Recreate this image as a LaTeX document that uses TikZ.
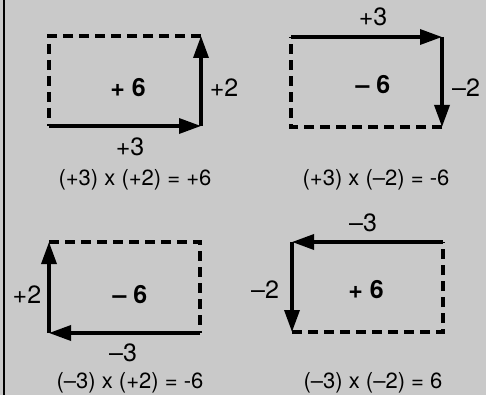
\documentclass[tikz,border=0pt]{standalone}
\usepackage{fontspec}
\setmainfont{TeX Gyre Heros}
\usetikzlibrary{arrows.meta}

\begin{document}
\begin{tikzpicture}[
    x=0.5pt, y=-0.5pt,
    vec/.style={draw, line width=1.7pt, -{Triangle[length=11pt, width=7.5pt]}},
    open/.style={draw, line width=1.7pt, dash pattern=on 5pt off 3pt},
    num/.style={font=\fontsize{12.5}{14}\selectfont, inner sep=0pt},
    area/.style={font=\fontsize{12.5}{14}\selectfont\bfseries, inner sep=0pt},
    eqn/.style={font=\fontsize{11}{13}\selectfont, inner sep=0pt}
]

    % Background
    \fill[black!21] (0,0) rectangle (486,395);
    \useasboundingbox (0,0) rectangle (486,395);
    \draw[line width=1pt] (4,0) -- (4,395);

    % Panel 1: (+3) x (+2)
    \coordinate (p1a) at (49,126);
    \coordinate (p1b) at (201,126);
    \coordinate (p1c) at (201,36);
    \coordinate (p1d) at (49,36);
    \draw [open] (p1c) -- (p1d) -- (p1a);
    \path [vec] (p1a) -- (p1b);
    \path [vec] (p1b) -- (p1c);
    \node (area1) [area] at (128,88) {+ 6};
    \node (lbl1x) [num] at (130,147) {+3};
    \node (lbl1y) [num] at (224,88) {+2};
    \node (eq1) [eqn] at (135,180) {(+3) x (+2) = +6};

    % Panel 2: (+3) x (-2)
    \coordinate (p2a) at (291,37);
    \coordinate (p2b) at (442,37);
    \coordinate (p2c) at (442,127);
    \coordinate (p2d) at (291,127);
    \draw [open] (p2c) -- (p2d) -- (p2a);
    \path [vec] (p2a) -- (p2b);
    \path [vec] (p2b) -- (p2c);
    \node (area2) [area] at (373,85) {– 6};
    \node (lbl2x) [num] at (373,17) {+3};
    \node (lbl2y) [num] at (466,88) {–2};
    \node (eq2) [eqn] at (376,180) {(+3) x (–2) = -6};

    % Panel 3: (-3) x (+2)
    \coordinate (p3a) at (200,333);
    \coordinate (p3b) at (49,333);
    \coordinate (p3c) at (49,242);
    \coordinate (p3d) at (200,242);
    \draw [open] (p3c) -- (p3d) -- (p3a);
    \path [vec] (p3a) -- (p3b);
    \path [vec] (p3b) -- (p3c);
    \node (area3) [area] at (130,295) {– 6};
    \node (lbl3x) [num] at (123,353) {–3};
    \node (lbl3y) [num] at (27,295) {+2};
    \node (eq3) [eqn] at (130,383) {(–3) x (+2) = -6};

    % Panel 4: (-3) x (-2)
    \coordinate (p4a) at (443,242);
    \coordinate (p4b) at (292,242);
    \coordinate (p4c) at (292,332);
    \coordinate (p4d) at (443,332);
    \draw [open] (p4c) -- (p4d) -- (p4a);
    \path [vec] (p4a) -- (p4b);
    \path [vec] (p4b) -- (p4c);
    \node (area4) [area] at (366,290) {+ 6};
    \node (lbl4x) [num] at (363,223) {–3};
    \node (lbl4y) [num] at (265,290) {–2};
    \node (eq4) [eqn] at (373,383) {(–3) x (–2) = 6};

\end{tikzpicture}
\end{document}
